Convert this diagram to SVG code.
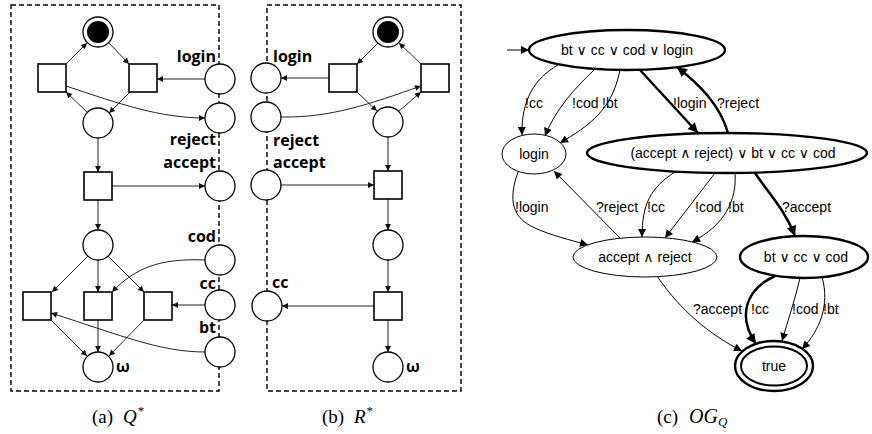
<svg xmlns="http://www.w3.org/2000/svg" width="872" height="434" viewBox="0 0 872 434">
<defs>
<marker id="pa" viewBox="0 0 10 10" refX="10" refY="5" markerWidth="7" markerHeight="6" orient="auto" markerUnits="userSpaceOnUse"><path d="M0,0 L10,5 L0,10 z" fill="#111"/></marker>
<marker id="ga" viewBox="0 0 10 10" refX="10" refY="5" markerWidth="11" markerHeight="8" orient="auto" markerUnits="userSpaceOnUse"><path d="M0,0 L10,5 L0,10 z" fill="#000"/></marker>
<marker id="gb" viewBox="0 0 10 10" refX="10" refY="5" markerWidth="13" markerHeight="10" orient="auto" markerUnits="userSpaceOnUse"><path d="M0,0 L10,5 L0,10 z" fill="#000"/></marker>
</defs>
<style>
.box{fill:none;stroke:#000;stroke-width:1.4;stroke-dasharray:5,3}
.pl{fill:#fff;stroke:#000;stroke-width:1.3}
.tr{fill:#fff;stroke:#000;stroke-width:1.6}
.pe{fill:none;stroke:#222;stroke-width:1;marker-end:url(#pa)}
.lb{font-family:"Open Sans","DejaVu Sans",sans-serif;font-weight:700;font-size:16px;fill:#000}
.cap{font-family:"Liberation Serif","Times New Roman",serif;font-size:19px;fill:#000}
.gn{fill:#fff;stroke:#000;stroke-width:1}
.gnb{fill:#fff;stroke:#000;stroke-width:2.4}
.ge{fill:none;stroke:#000;stroke-width:1;marker-end:url(#ga)}
.geb{fill:none;stroke:#000;stroke-width:2.5;marker-end:url(#gb)}
.gt{font-family:"Liberation Sans","DejaVu Sans",Arial,sans-serif;font-size:14px;fill:#000}
.mid{text-anchor:middle}
.end{text-anchor:end}
</style>

<!-- Panel (a) -->
<rect class="box" x="11" y="5" width="208" height="386"/>
<g id="a-connectors">
<path class="pe" d="M66,64 L87,43"/>
<path class="pe" d="M109,43 L129,64"/>
<path class="pe" d="M205,79 L157,79"/>
<path class="pe" d="M130,92 L109,113"/>
<path class="pe" d="M87,112 L66,92"/>
<path class="pe" d="M66,86 C120,104 160,118 205,118"/>
<path class="pe" d="M98,138 L98,172"/>
<path class="pe" d="M112,186 L205,186"/>
<path class="pe" d="M98,200 L98,230"/>
<path class="pe" d="M88,256 L52,292"/>
<path class="pe" d="M98,260 L98,292"/>
<path class="pe" d="M108,256 L144,292"/>
<path class="pe" d="M205,260 C160,258 135,268 112,292"/>
<path class="pe" d="M205,305 L172,305"/>
<path class="pe" d="M205,352 C160,352 120,335 51,313"/>
<path class="pe" d="M51,320 L87,356"/>
<path class="pe" d="M98,320 L98,352"/>
<path class="pe" d="M144,320 L109,356"/>
</g>
<g id="a-final"><circle class="pl" cx="98" cy="32" r="15"/><circle cx="98" cy="32" r="11" fill="#000"/></g>
<g id="a-t1"><rect class="tr" x="38" y="64" width="28" height="28"/></g>
<g id="a-t2"><rect class="tr" x="129" y="64" width="28" height="28"/></g>
<g id="a-login"><circle class="pl" cx="220" cy="79" r="15"/><text class="lb end" x="216" y="62">login</text></g>
<g id="a-reject"><circle class="pl" cx="220" cy="118" r="15"/><text class="lb end" x="216" y="145">reject</text></g>
<g id="a-p1"><circle class="pl" cx="98" cy="123" r="15"/></g>
<g id="a-t3"><rect class="tr" x="84" y="172" width="28" height="28"/></g>
<g id="a-accept"><circle class="pl" cx="220" cy="186" r="15"/><text class="lb end" x="216" y="168">accept</text></g>
<g id="a-p2"><circle class="pl" cx="98" cy="245" r="15"/></g>
<g id="a-cod"><circle class="pl" cx="220" cy="260" r="15"/><text class="lb end" x="216" y="242">cod</text></g>
<g id="a-cc"><circle class="pl" cx="220" cy="305" r="15"/><text class="lb end" x="216" y="289">cc</text></g>
<g id="a-bt"><circle class="pl" cx="220" cy="352" r="15"/><text class="lb end" x="216" y="333">bt</text></g>
<g id="a-t4"><rect class="tr" x="23" y="292" width="28" height="28"/></g>
<g id="a-t5"><rect class="tr" x="84" y="292" width="28" height="28"/></g>
<g id="a-t6"><rect class="tr" x="144" y="292" width="28" height="28"/></g>
<g id="a-omega"><circle class="pl" cx="98" cy="367" r="15"/><text class="lb" x="116" y="372">ω</text></g>
<text class="cap" x="92" y="423">(a)<tspan x="123" font-style="italic">Q</tspan><tspan font-size="13" dx="1" dy="-8">*</tspan></text>

<!-- Panel (b) -->
<rect class="box" x="267" y="5" width="194" height="386"/>
<g id="b-connectors">
<path class="pe" d="M378,43 L357,64"/>
<path class="pe" d="M421,64 L399,43"/>
<path class="pe" d="M329,78 L281,78"/>
<path class="pe" d="M357,92 L377,111"/>
<path class="pe" d="M399,111 L421,92"/>
<path class="pe" d="M281,117 C330,118 370,104 421,86"/>
<path class="pe" d="M388,137 L388,171"/>
<path class="pe" d="M281,185 L374,185"/>
<path class="pe" d="M388,199 L388,230"/>
<path class="pe" d="M388,260 L388,292"/>
<path class="pe" d="M374,306 L282,306"/>
<path class="pe" d="M388,320 L388,352"/>
</g>
<g id="b-final"><circle class="pl" cx="388" cy="32" r="15"/><circle cx="388" cy="32" r="11" fill="#000"/></g>
<g id="b-t1"><rect class="tr" x="329" y="64" width="28" height="28"/></g>
<g id="b-t2"><rect class="tr" x="421" y="64" width="28" height="28"/></g>
<g id="b-login"><circle class="pl" cx="266" cy="78" r="15"/><text class="lb" x="273" y="62">login</text></g>
<g id="b-reject"><circle class="pl" cx="266" cy="117" r="15"/><text class="lb" x="273" y="146">reject</text></g>
<g id="b-p1"><circle class="pl" cx="388" cy="122" r="15"/></g>
<g id="b-accept"><circle class="pl" cx="266" cy="185" r="15"/><text class="lb" x="273" y="168">accept</text></g>
<g id="b-t3"><rect class="tr" x="374" y="171" width="28" height="28"/></g>
<g id="b-p2"><circle class="pl" cx="388" cy="245" r="15"/></g>
<g id="b-t4"><rect class="tr" x="374" y="292" width="28" height="28"/></g>
<g id="b-cc"><circle class="pl" cx="267" cy="306" r="15"/><text class="lb" x="272" y="288">cc</text></g>
<g id="b-omega"><circle class="pl" cx="388" cy="367" r="15"/><text class="lb" x="406" y="372">ω</text></g>
<text class="cap" x="322" y="423">(b)<tspan x="354" font-style="italic">R</tspan><tspan font-size="13" dx="1" dy="-8">*</tspan></text>

<!-- Panel (c) -->
<g id="c-connectors">
<path class="ge" d="M507,50 L529,50"/>
<path class="ge" d="M558,65 C535,78 521,100 522,135"/>
<path class="ge" d="M595,69 C575,88 555,110 545,136"/>
<path class="ge" d="M620,70 C612,110 590,125 560,143"/>
<path class="geb" d="M640,70 L698,133"/>
<path class="geb" d="M728,133 C720,105 700,85 677,67"/>
<path class="ge" d="M518,172 C508,200 512,218 535,228 C550,235 570,240 588,245"/>
<path class="ge" d="M620,238 L554,171"/>
<path class="ge" d="M675,172 C650,188 642,205 642,237"/>
<path class="ge" d="M715,173 L665,238"/>
<path class="ge" d="M735,173 C737,200 725,225 692,242"/>
<path class="geb" d="M755,173 C770,195 785,210 795,236"/>
<path class="ge" d="M657,276 C680,310 710,335 742,351"/>
<path class="geb" d="M775,276 C744,290 738,318 756,344"/>
<path class="ge" d="M800,278 C795,300 788,320 782,341"/>
<path class="ge" d="M822,277 C830,305 820,330 802,349"/>
</g>
<g id="c-labels">
<text class="gt" x="525" y="108">!cc</text>
<text class="gt" x="572" y="108">!cod</text>
<text class="gt" x="602" y="108">!bt</text>
<text class="gt" x="673" y="108">!login</text>
<text class="gt" x="717" y="108">?reject</text>
<text class="gt" x="515" y="212">!login</text>
<text class="gt" x="596" y="212">?reject</text>
<text class="gt" x="647" y="212">!cc</text>
<text class="gt" x="695" y="212">!cod</text>
<text class="gt" x="728" y="212">!bt</text>
<text class="gt" x="782" y="212">?accept</text>
<text class="gt" x="693" y="314">?accept</text>
<text class="gt" x="751" y="314">!cc</text>
<text class="gt" x="792" y="314">!cod</text>
<text class="gt" x="823" y="314">!bt</text>
</g>
<g id="c-n0"><ellipse class="gnb" cx="627" cy="50" rx="98" ry="20"/><text class="gt mid" x="627" y="55">bt ∨  cc ∨  cod ∨  login</text></g>
<g id="c-login"><ellipse class="gn" cx="534" cy="154" rx="32" ry="20"/><text class="gt mid" x="534" y="159">login</text></g>
<g id="c-n1"><ellipse class="gnb" cx="727" cy="153" rx="140" ry="20"/><text class="gt mid" x="733" y="158">(accept ∧  reject) ∨  bt ∨  cc ∨  cod</text></g>
<g id="c-ar"><ellipse class="gn" cx="645" cy="257" rx="72" ry="20"/><text class="gt mid" x="645" y="262">accept ∧  reject</text></g>
<g id="c-bcc"><ellipse class="gnb" cx="804" cy="257" rx="64" ry="21"/><text class="gt mid" x="806" y="262">bt ∨  cc ∨  cod</text></g>
<g id="c-true"><ellipse class="gnb" cx="774" cy="366" rx="39" ry="25"/><ellipse fill="none" stroke="#000" stroke-width="2" cx="774" cy="366" rx="33" ry="19.5"/><text class="gt mid" x="774" y="371">true</text></g>
<text class="cap" x="657" y="423">(c)<tspan x="689" font-style="italic" font-size="20">OG</tspan><tspan font-style="italic" font-size="13" dy="3">Q</tspan></text>
</svg>
